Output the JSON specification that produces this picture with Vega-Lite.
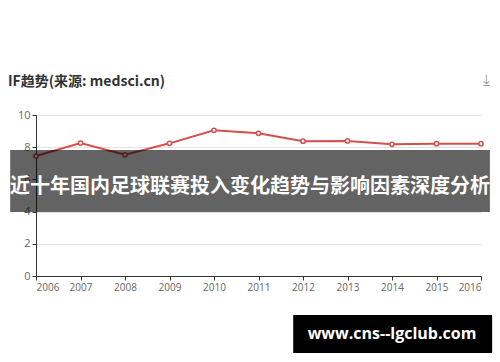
{
  "$schema": "https://vega.github.io/schema/vega-lite/v6.json",
  "width": 445,
  "height": 161,
  "autosize": "none",
  "padding": {"left": 36, "top": 115, "right": 19, "bottom": 86},
  "background": "white",
  "title": {
    "text": "IF趋势(来源: medsci.cn)",
    "anchor": "start",
    "frame": "group",
    "dx": -28,
    "offset": -16,
    "fontSize": 14,
    "fontWeight": "bold",
    "color": "#333333",
    "font": "Noto Sans CJK SC"
  },
  "config": {
    "view": {"stroke": null},
    "font": "Open Sans",
    "axis": {
      "labelColor": "#666666",
      "labelFont": "Open Sans",
      "domainColor": "#333333",
      "tickColor": "#333333",
      "tickSize": 4,
      "title": null,
      "labelOverlap": false,
      "labelBound": false
    }
  },
  "layer": [
    {
      "data": {
        "values": [
          {"year": 2006, "IF": 7.45},
          {"year": 2007, "IF": 8.26},
          {"year": 2008, "IF": 7.53},
          {"year": 2009, "IF": 8.24},
          {"year": 2010, "IF": 9.05},
          {"year": 2011, "IF": 8.86},
          {"year": 2012, "IF": 8.37},
          {"year": 2013, "IF": 8.39},
          {"year": 2014, "IF": 8.18},
          {"year": 2015, "IF": 8.22},
          {"year": 2016, "IF": 8.22}
        ]
      },
      "layer": [
        {
          "mark": {"type": "line", "color": "#d4504f", "strokeWidth": 2},
          "encoding": {
            "x": {
              "field": "year",
              "type": "quantitative",
              "scale": {"domain": [2006, 2016], "nice": false, "zero": false},
              "axis": {"values": [2006, 2007, 2008, 2009, 2010, 2011, 2012, 2013, 2014, 2015, 2016], "format": "d", "grid": false, "labelFontSize": 10, "labelPadding": 2, "labelOverlap": false}
            },
            "y": {
              "field": "IF",
              "type": "quantitative",
              "scale": {"domain": [0, 10], "nice": false},
              "axis": {"values": [0, 2, 4, 6, 8, 10], "grid": true, "gridColor": "#e2e2e2", "labelFontSize": 11, "labelPadding": 2, "labelOverlap": false}
            }
          }
        },
        {
          "mark": {"type": "point", "filled": true, "fill": "white", "stroke": "#d4504f", "strokeWidth": 1.5, "size": 18, "opacity": 1},
          "encoding": {
            "x": {"field": "year", "type": "quantitative", "axis": {"values": [2006, 2007, 2008, 2009, 2010, 2011, 2012, 2013, 2014, 2015, 2016], "format": "d", "grid": false, "labelFontSize": 10, "labelPadding": 2, "labelOverlap": false}},
            "y": {"field": "IF", "type": "quantitative", "axis": {"values": [0, 2, 4, 6, 8, 10], "grid": true, "gridColor": "#e2e2e2", "labelFontSize": 11, "labelPadding": 2, "labelOverlap": false}}
          }
        }
      ]
    },
    {
      "data": {"values": [{}]},
      "mark": {"type": "rect", "fill": "black", "fillOpacity": 0.61, "strokeWidth": 0},
      "encoding": {
        "x": {"datum": 2005.42, "type": "quantitative", "axis": {"values": [2006, 2007, 2008, 2009, 2010, 2011, 2012, 2013, 2014, 2015, 2016], "format": "d", "grid": false, "labelFontSize": 10, "labelPadding": 2, "labelOverlap": false}},
        "x2": {"datum": 2016.2},
        "y": {"datum": 7.83, "type": "quantitative", "axis": {"values": [0, 2, 4, 6, 8, 10], "grid": true, "gridColor": "#e2e2e2", "labelFontSize": 11, "labelPadding": 2, "labelOverlap": false}},
        "y2": {"datum": 3.98}
      }
    },
    {
      "data": {"values": [{}]},
      "mark": {"type": "text", "color": "white", "fontSize": 20, "fontWeight": "bold", "font": "Noto Sans CJK SC", "align": "center", "baseline": "middle"},
      "encoding": {
        "x": {"datum": 2010.81, "type": "quantitative", "axis": {"values": [2006, 2007, 2008, 2009, 2010, 2011, 2012, 2013, 2014, 2015, 2016], "format": "d", "grid": false, "labelFontSize": 10, "labelPadding": 2, "labelOverlap": false}},
        "y": {"datum": 5.55, "type": "quantitative", "axis": {"values": [0, 2, 4, 6, 8, 10], "grid": true, "gridColor": "#e2e2e2", "labelFontSize": 11, "labelPadding": 2, "labelOverlap": false}},
        "text": {"value": "近十年国内足球联赛投入变化趋势与影响因素深度分析"}
      }
    },
    {
      "data": {"values": [{}]},
      "mark": {"type": "rect", "fill": "black", "fillOpacity": 1, "strokeWidth": 0},
      "encoding": {
        "x": {"datum": 2011.78, "type": "quantitative", "axis": {"values": [2006, 2007, 2008, 2009, 2010, 2011, 2012, 2013, 2014, 2015, 2016], "format": "d", "grid": false, "labelFontSize": 10, "labelPadding": 2, "labelOverlap": false}},
        "x2": {"datum": 2016.25},
        "y": {"datum": -2.42, "type": "quantitative", "axis": {"values": [0, 2, 4, 6, 8, 10], "grid": true, "gridColor": "#e2e2e2", "labelFontSize": 11, "labelPadding": 2, "labelOverlap": false}},
        "y2": {"datum": -4.78}
      }
    },
    {
      "data": {"values": [{}]},
      "mark": {"type": "text", "color": "white", "fontSize": 16, "fontWeight": "bold", "font": "Open Sans", "align": "center", "baseline": "middle"},
      "encoding": {
        "x": {"datum": 2014.0, "type": "quantitative", "axis": {"values": [2006, 2007, 2008, 2009, 2010, 2011, 2012, 2013, 2014, 2015, 2016], "format": "d", "grid": false, "labelFontSize": 10, "labelPadding": 2, "labelOverlap": false}},
        "y": {"datum": -3.6, "type": "quantitative", "axis": {"values": [0, 2, 4, 6, 8, 10], "grid": true, "gridColor": "#e2e2e2", "labelFontSize": 11, "labelPadding": 2, "labelOverlap": false}},
        "text": {"value": "www.cns--lgclub.com"}
      }
    },
    {
      "data": {"values": [{}]},
      "mark": {"type": "text", "color": "#999999", "fontSize": 15, "font": "DejaVu Sans", "align": "center", "baseline": "middle"},
      "encoding": {
        "x": {"datum": 2016.13, "type": "quantitative", "axis": {"values": [2006, 2007, 2008, 2009, 2010, 2011, 2012, 2013, 2014, 2015, 2016], "format": "d", "grid": false, "labelFontSize": 10, "labelPadding": 2, "labelOverlap": false}},
        "y": {"datum": 12.17, "type": "quantitative", "axis": {"values": [0, 2, 4, 6, 8, 10], "grid": true, "gridColor": "#e2e2e2", "labelFontSize": 11, "labelPadding": 2, "labelOverlap": false}},
        "text": {"value": "⤓"}
      }
    }
  ]
}
